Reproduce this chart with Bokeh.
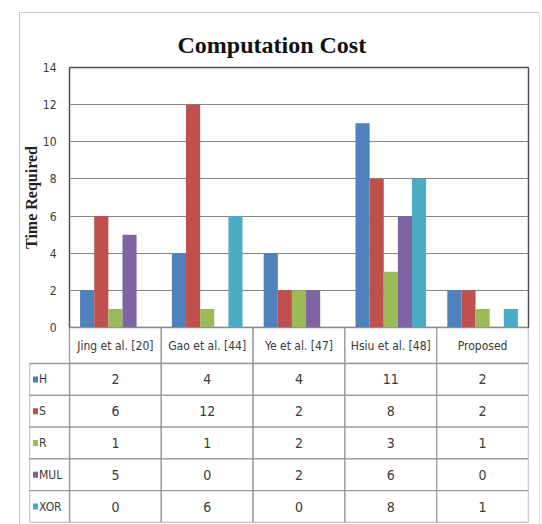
from bokeh.plotting import figure
from bokeh.models import FactorRange, Range1d, FixedTicker, ColumnDataSource, Div
from bokeh.transform import dodge
from bokeh.embed import file_html
from bokeh.resources import INLINE
from bokeh.core.properties import value

# ---------------- data ----------------
categories = ["Jing et al. [20]", "Gao et al. [44]", "Ye et al. [47]", "Hsiu et al. [48]", "Proposed"]
series = ["H", "S", "R", "MUL", "XOR"]
h_vals = [2, 4, 4, 11, 2]
s_vals = [6, 12, 2, 8, 2]
r_vals = [1, 1, 2, 3, 1]
mul_vals = [5, 0, 2, 6, 0]
xor_vals = [0, 6, 0, 8, 1]
y_ticks = [0, 2, 4, 6, 8, 10, 12, 14]
title_text = "Computation Cost"
y_label = "Time Required"

# ---------------- styles ----------------
colors = ["#4F81BD", "#C0504D", "#9BBB59", "#8064A2", "#4BACC6"]
NARROW = "'Liberation Sans Narrow', 'Arial Narrow', 'DejaVu Sans Condensed', sans-serif"
SERIF = "'Liberation Serif', 'Times New Roman', serif"
TXT = "#3a3a3a"
TABLE_LINE = "#9a9a9a"

W = 542
FRAME_RIGHT = 14
CHART_LEFT = 69
TABLE_LEFT = 29
CHART_TOP = 67
CHART_H = 336      # frame bottom at 327, 9px extra for the "0" label
OVERLAP = 9
TABLE_H = 524 - (CHART_H - OVERLAP)
TABLE_BOTTOM = 2
HDR_PX = 36

n_cat = len(categories)
nser = len(series)
unit_px = (W - CHART_LEFT - FRAME_RIGHT) / n_cat
leg_w = (CHART_LEFT - TABLE_LEFT) / unit_px
row_px = (TABLE_H - TABLE_BOTTOM - HDR_PX) / nser
hdr_h = HDR_PX / row_px

values = {"H": h_vals, "S": s_vals, "R": r_vals, "MUL": mul_vals, "XOR": xor_vals}

# ---------------- chart ----------------
p = figure(width=W, height=CHART_H,
           x_range=FactorRange(factors=categories, range_padding=0, factor_padding=0),
           y_range=Range1d(y_ticks[0], y_ticks[-1]),
           x_axis_location=None,
           output_backend="svg", toolbar_location=None,
           min_border_left=CHART_LEFT, min_border_right=FRAME_RIGHT,
           min_border_top=CHART_TOP, min_border_bottom=OVERLAP,
           title=title_text)

src = ColumnDataSource(dict(cat=categories, **values))
bar_w = 1.0 / (nser + 1.5)
for k, (name, col) in enumerate(zip(series, colors)):
    p.vbar(x=dodge("cat", (k - (nser - 1) / 2) * bar_w, range=p.x_range),
           top=name, width=bar_w, source=src,
           fill_color=col, line_color=None)

p.title.text_font = SERIF
p.title.text_font_style = "bold"
p.title.text_font_size = "24px"
p.title.text_color = "#111111"
p.title.align = "left"
p.title.offset = 108
p.title.standoff = 20

ax = p.yaxis[0]
ax.ticker = FixedTicker(ticks=y_ticks)
ax.major_tick_line_color = None
ax.minor_tick_line_color = None
ax.major_tick_out = 0
ax.major_tick_in = 0
ax.axis_line_color = None
ax.major_label_standoff = 13
ax.major_label_text_font = NARROW
ax.major_label_text_font_size = "12px"
ax.major_label_text_color = TXT
ax.axis_label = y_label
ax.axis_label_text_font = SERIF
ax.axis_label_text_font_style = "bold"
ax.axis_label_text_font_size = "16px"
ax.axis_label_text_color = "#222222"
ax.axis_label_standoff = 0

p.xgrid.grid_line_color = None
p.ygrid.grid_line_color = "#858585"
p.ygrid.grid_line_width = 1
p.outline_line_color = "#505050"
p.outline_line_width = 1.5
p.background_fill_color = "white"
p.border_fill_color = "white"

# ---------------- table ----------------
q = figure(width=W, height=TABLE_H,
           x_range=Range1d(-leg_w, n_cat),
           y_range=Range1d(0, nser + hdr_h),
           x_axis_location=None, y_axis_location=None,
           output_backend="svg", toolbar_location=None,
           min_border_left=TABLE_LEFT, min_border_right=FRAME_RIGHT,
           min_border_top=0, min_border_bottom=TABLE_BOTTOM,
           styles={"margin-top": f"-{OVERLAP}px"})
q.outline_line_color = None
q.grid.visible = False
q.background_fill_color = None
q.border_fill_color = None

col_x = [i + 0.5 for i in range(n_cat)]
row_y = {name: nser - j - 0.5 for j, name in enumerate(series)}
hdr_y = nser + hdr_h / 2

# header row (category names)
hdr = ColumnDataSource(dict(x=col_x, y=[hdr_y] * n_cat, t=categories))
q.rect(x="x", y="y", width=1, height=hdr_h, source=hdr,
       fill_color="white", line_color=TABLE_LINE, line_width=1.3)
q.text(x="x", y="y", text="t", source=hdr, text_align="center", text_baseline="middle",
       text_font=value(NARROW), text_font_size="12px", text_color=TXT)

# data cells
cx, cy, ct = [], [], []
for name in series:
    for i, v in enumerate(values[name]):
        cx.append(col_x[i])
        cy.append(row_y[name])
        ct.append(str(v))
cells = ColumnDataSource(dict(x=cx, y=cy, t=ct))
q.rect(x="x", y="y", width=1, height=1, source=cells,
       fill_color="white", line_color=TABLE_LINE, line_width=1.3)
q.text(x="x", y="y", text="t", source=cells, text_align="center", text_baseline="middle",
       text_font=value(NARROW), text_font_size="14px", text_color=TXT)

# legend column
leg = ColumnDataSource(dict(x=[-leg_w / 2] * nser, kx=[-leg_w + 6 / unit_px] * nser,
                            tx=[-leg_w + 9.5 / unit_px] * nser,
                            y=[row_y[s] for s in series], t=series, c=colors))
q.rect(x="x", y="y", width=leg_w, height=1, source=leg,
       fill_color="white", line_color=TABLE_LINE, line_width=1.3)
q.rect(x="kx", y="y", width=5, height=6, width_units="screen", height_units="screen",
       source=leg, fill_color="c", line_color=None)
q.text(x="tx", y="y", text="t", source=leg, text_align="left", text_baseline="middle",
       text_font=value(NARROW), text_font_size="12px", text_color=TXT)

# light outer frame of the whole figure
frame = Div(text="", styles={"position": "absolute", "left": "14px", "top": "7px",
                             "width": "521px", "height": "516px",
                             "border-left": "1px solid #c8c8c8",
                             "border-top": "1px solid #c8c8c8",
                             "border-right": "1px solid #e0e0e0",
                             "box-sizing": "border-box", "pointer-events": "none"})

open("out.html", "w").write(file_html([p, q, frame], INLINE))
